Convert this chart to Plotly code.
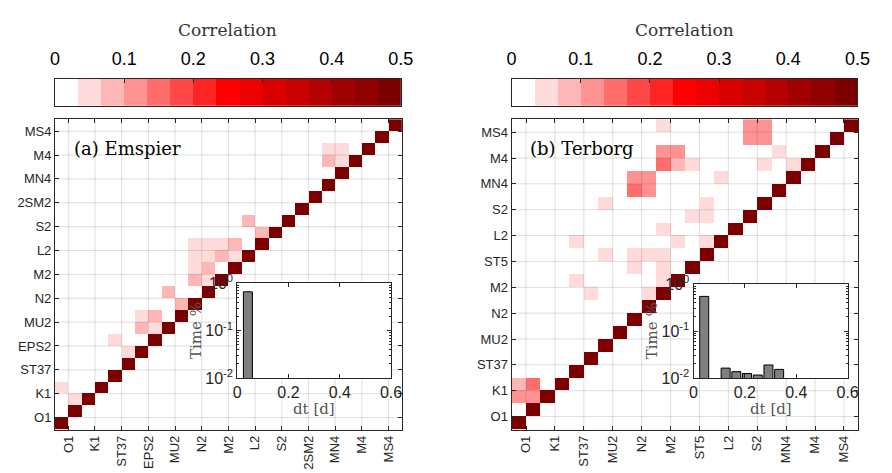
import numpy as np
import plotly.graph_objects as go

W, H = 892, 473

# ---------------------------------------------------------------- data
emspier_labels = ["O1", "K1", "ST37", "EPS2", "MU2", "N2", "M2", "L2", "S2",
                  "2SM2", "MN4", "M4", "MS4"]
terborg_labels = ["O1", "K1", "ST37", "MU2", "N2", "M2", "ST5", "L2", "S2",
                  "MN4", "M4", "MS4"]

# off-diagonal correlations: column index, row index, value (diagonal = 1)
emspier_cols = [0, 1, 4, 5, 6, 7, 6, 7, 8, 9, 10, 11, 10, 11, 10, 11, 12, 13,
                10, 11, 12, 13, 14, 15, 20, 21, 20, 21]
emspier_rows = [3, 2, 7, 6, 9, 9, 8, 8, 11, 10, 12, 12, 13, 13, 14, 14, 14, 14,
                15, 15, 15, 15, 17, 16, 23, 23, 22, 22]
emspier_vals = [0.05, 0.05, 0.05, 0.05, 0.05, 0.085, 0.085, 0.05, 0.085, 0.085,
                0.085, 0.05, 0.05, 0.085, 0.05, 0.05, 0.085, 0.05,
                0.05, 0.05, 0.05, 0.085, 0.085, 0.085, 0.05, 0.05, 0.085, 0.05]

terborg_cols = [0, 1, 0, 1, 4, 5, 9, 10, 10, 8, 6, 8, 9, 10, 4, 11, 13, 10,
                12, 13, 6, 13, 8, 9, 8, 9, 14, 10, 11, 12, 17, 19, 10, 11, 18,
                16, 17, 16, 17, 10]
terborg_rows = [3, 3, 2, 2, 11, 10, 10, 11, 12, 12, 13, 13, 13, 13, 14, 14, 14, 15,
                16, 16, 17, 17, 18, 18, 19, 19, 19, 20, 20, 20, 20, 20, 21, 21, 21,
                22, 22, 23, 23, 23]
terborg_vals = [0.085, 0.15, 0.115, 0.115, 0.05, 0.05, 0.05, 0.05, 0.05, 0.05,
                0.05, 0.05, 0.05, 0.05, 0.05, 0.05, 0.05, 0.05,
                0.05, 0.05, 0.05, 0.05, 0.15, 0.115, 0.115, 0.115, 0.05,
                0.15, 0.085, 0.05, 0.05, 0.05, 0.115, 0.115, 0.05,
                0.115, 0.115, 0.115, 0.115, 0.05]

# histogram of time offsets (days) and fraction of time
emspier_dt = [1 / 24]
emspier_frac = [0.66]
terborg_dt = [1 / 24, 3 / 24, 4 / 24, 5 / 24, 6 / 24, 7 / 24, 8 / 24]
terborg_frac = [0.544, 0.0163, 0.0137, 0.0125, 0.0116, 0.019, 0.0153]

cbar_ticks = [0, 0.1, 0.2, 0.3, 0.4, 0.5]
N_BINS = 15
CMAX = 0.5

# ---------------------------------------------------------------- styling
AX = "#262626"
SANS = "Liberation Sans, Arial, sans-serif"
SERIF = "DejaVu Serif, serif"


def fx(px):
    return px / W


def fy(py):
    return 1 - py / H


def stepped_scale(n=N_BINS):
    cols = []
    for k in range(n):
        if k <= 7:
            g = round(255 * (1 - k / 7))
            cols.append(f"rgb(255,{g},{g})")
        else:
            r = round(255 - (255 - 124) * (k - 7) / 7)
            cols.append(f"rgb({r},0,0)")
    scale = []
    for k, c in enumerate(cols):
        scale.append([k / n, c])
        scale.append([(k + 1) / n, c])
    return scale


SCALE = stepped_scale()


def build_matrix(n, cols, rows, vals):
    z = np.zeros((n, n))
    for i in range(n):
        z[i, i] = 1.0
    for c, r, v in zip(cols, rows, vals):
        z[r, c] = v
    return z


fig = go.Figure()

panels = [
    dict(labels=emspier_labels, cols=emspier_cols, rows=emspier_rows,
         vals=emspier_vals, dt=emspier_dt, frac=emspier_frac,
         main=(51, 405), inset=(237, 394, 284.3, 383.3), name="(a) Emspier"),
    dict(labels=terborg_labels, cols=terborg_cols, rows=terborg_rows,
         vals=terborg_vals, dt=terborg_dt, frac=terborg_frac,
         main=(517, 871), inset=(702.7, 860, 285, 383.3), name="(b) Terborg"),
]

TOP, BOT = 113, 437
CB_TOP, CB_BOT = 71, 99
annotations = []
layout_axes = {}
bin_centers = [(k + 0.5) * CMAX / N_BINS for k in range(N_BINS)]


def key(a, i):
    return a if i == 1 else f"{a}{i}"


for p_i, p in enumerate(panels):
    n = 2 * len(p["labels"])
    z = build_matrix(n, p["cols"], p["rows"], p["vals"])
    s = 1 + 3 * p_i          # main subplot index; inset = s+1, colour bar = s+2
    mx, my = ("x", "y") if s == 1 else (f"x{s}", f"y{s}")
    ix, iy = f"x{s + 1}", f"y{s + 1}"
    cx, cy = f"x{s + 2}", f"y{s + 2}"

    # correlation matrix
    fig.add_trace(go.Heatmap(z=z, x=list(range(n)), y=list(range(n)),
                             coloraxis="coloraxis", xaxis=mx, yaxis=my,
                             hoverinfo="skip"))

    # grid lines on top of the cells
    ticks = [2 * k + 0.5 for k in range(len(p["labels"]))]
    gx, gy = [], []
    for t in ticks:
        gx += [t, t, None, -0.5, n - 0.5, None]
        gy += [-0.5, n - 0.5, None, t, t, None]
    fig.add_trace(go.Scatter(x=gx, y=gy, mode="lines", xaxis=mx, yaxis=my,
                             line=dict(color="rgba(38,38,38,0.15)", width=1),
                             hoverinfo="skip", showlegend=False))

    axis_common = dict(range=[-0.5, n - 0.5], tickmode="array", tickvals=ticks,
                       ticktext=p["labels"], ticks="inside", ticklen=4,
                       tickcolor=AX, showline=True, linecolor=AX, linewidth=1,
                       mirror="ticks", showgrid=False, zeroline=False,
                       tickfont=dict(family=SANS, size=13, color=AX))
    x0, x1 = p["main"]
    layout_axes[key("xaxis", s)] = dict(axis_common, domain=[fx(x0), fx(x1)],
                                        anchor=my, tickangle=-90)
    layout_axes[key("yaxis", s)] = dict(axis_common, domain=[fy(BOT), fy(TOP)],
                                        anchor=mx)

    # inset histogram: opaque white backing bar, then the data bars
    a0, a1, b0, b1 = p["inset"]
    fig.add_trace(go.Bar(x=[0.3], y=[1], width=0.6, xaxis=ix, yaxis=iy,
                         marker=dict(color="white", line=dict(width=0)),
                         hoverinfo="skip", showlegend=False))
    fig.add_trace(go.Bar(x=p["dt"], y=p["frac"], width=0.035, xaxis=ix, yaxis=iy,
                         marker=dict(color="#808080", line=dict(color="black", width=1)),
                         hoverinfo="skip", showlegend=False))
    inset_common = dict(ticks="inside", ticklen=4, tickcolor=AX, showline=True,
                        linecolor=AX, linewidth=1, mirror="ticks", showgrid=False,
                        zeroline=False, tickfont=dict(family=SANS, size=16, color=AX))
    layout_axes[f"xaxis{s + 1}"] = dict(inset_common, domain=[fx(a0), fx(a1)],
                                        anchor=iy, range=[0, 0.6], tickmode="array",
                                        tickvals=[0, 0.2, 0.4, 0.6],
                                        ticktext=["0", "0.2", "0.4", "0.6"])
    layout_axes[f"yaxis{s + 1}"] = dict(
        inset_common, domain=[fy(b1), fy(b0)], anchor=ix, type="log", range=[-2, 0],
        tickmode="array", tickvals=[0.01, 0.1, 1],
        ticktext=["10<sup>-2</sup>", "10<sup>-1</sup>", "10<sup>0</sup>"],
        minor=dict(ticks="inside", ticklen=2, tickcolor=AX, tickmode="array",
                   tickvals=[m * d for d in (0.01, 0.1) for m in range(2, 10)],
                   showgrid=False))

    # colour bar drawn as a strip of the binned scale, labels on top
    fig.add_trace(go.Heatmap(z=[bin_centers], x=bin_centers, y=[0],
                             coloraxis="coloraxis", xaxis=cx, yaxis=cy,
                             hoverinfo="skip"))
    cb0, cb1 = (x0, x1 - 1)
    layout_axes[f"xaxis{s + 2}"] = dict(
        domain=[fx(cb0), fx(cb1)], anchor=cy, range=[0, CMAX], side="top",
        tickmode="array", tickvals=cbar_ticks, ticktext=[f"{t:g}" for t in cbar_ticks],
        ticks="inside", ticklen=4, tickcolor=AX, ticklabelstandoff=6,
        showline=True, mirror=True, linecolor=AX, linewidth=1,
        showgrid=False, zeroline=False,
        tickfont=dict(family=SANS, size=18, color="black"))
    layout_axes[f"yaxis{s + 2}"] = dict(
        domain=[fy(CB_BOT), fy(CB_TOP)], anchor=cx, range=[-0.5, 0.5],
        showticklabels=False, ticks="", showline=True, mirror=True,
        linecolor=AX, linewidth=1, showgrid=False, zeroline=False)

    annotations.append(dict(text="Correlation", x=fx((cb0 + cb1) / 2), y=fy(20),
                            xref="paper", yref="paper", xanchor="center",
                            yanchor="middle", showarrow=False,
                            font=dict(family=SERIF, size=17, color="#333")))
    annotations.append(dict(text=p["name"], x=fx(x0 + 17), y=fy(144), xref="paper",
                            yref="paper", xanchor="left", yanchor="middle",
                            showarrow=False, font=dict(family=SERIF, size=18, color="black")))
    annotations.append(dict(text="Time %", x=fx(a0 - 42), y=fy(334), xref="paper",
                            yref="paper", xanchor="center", yanchor="middle",
                            textangle=-90, showarrow=False,
                            font=dict(family=SERIF, size=15, color="#555")))
    annotations.append(dict(text="dt [d]", x=fx((a0 + a1) / 2), y=fy(416), xref="paper",
                            yref="paper", xanchor="center", yanchor="middle",
                            showarrow=False, font=dict(family=SERIF, size=15, color="#555")))

fig.update_layout(
    width=W, height=H, margin=dict(l=0, r=0, t=0, b=0),
    paper_bgcolor="white", plot_bgcolor="white", showlegend=False,
    barmode="overlay",
    coloraxis=dict(colorscale=SCALE, cmin=0, cmax=CMAX, showscale=False),
    annotations=annotations,
    **layout_axes,
)

fig.write_html("out.html")
